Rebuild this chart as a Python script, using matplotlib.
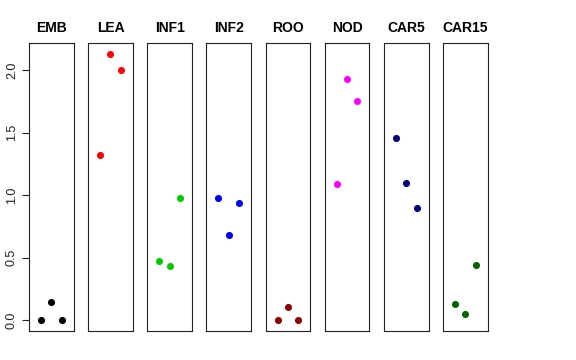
import matplotlib
matplotlib.use("Agg")
import matplotlib.pyplot as plt

plt.rcParams['font.family'] = ['Liberation Sans', 'DejaVu Sans']

groups = ["EMB", "LEA", "INF1", "INF2", "ROO", "NOD", "CAR5", "CAR15"]
colors = ["#000000", "#FF0000", "#00CD00", "#0000FF", "#8B0000", "#FF00FF", "#000080", "#006400"]
x_pos = [1, 2, 3]
values = {
    "EMB":   [0.00, 0.15, 0.00],
    "LEA":   [1.32, 2.13, 2.00],
    "INF1":  [0.47, 0.43, 0.98],
    "INF2":  [0.98, 0.68, 0.94],
    "ROO":   [0.00, 0.11, 0.00],
    "NOD":   [1.09, 1.93, 1.75],
    "CAR5":  [1.46, 1.10, 0.90],
    "CAR15": [0.13, 0.05, 0.44],
}
yticks = [0.0, 0.5, 1.0, 1.5, 2.0]
ytick_labels = ["0.0", "0.5", "1.0", "1.5", "2.0"]

W, H = 576, 360
fig = plt.figure(figsize=(W / 100, H / 100), dpi=100)

ymin, ymax = 0.0, 2.13
pad = (ymax - ymin) * 0.04
left0, pitch, width = 29.0, 59.14, 44.7
top_px, bot_px = 43.0, 331.0

for i, g in enumerate(groups):
    l = (left0 + i * pitch) / W
    ax = fig.add_axes([l, 1 - bot_px / H, width / W, (bot_px - top_px) / H])
    ax.scatter(x_pos, values[g], s=26, color=colors[i], linewidths=0, zorder=3)
    ax.set_xlim(-0.16, 4.16)
    ax.set_ylim(ymin - pad, ymax + pad)
    ax.set_xticks([])
    for sp in ax.spines.values():
        sp.set_linewidth(0.8)
        sp.set_color("#222222")
    ax.set_title(g, fontsize=10, fontweight="bold", pad=8)
    if i == 0:
        ax.set_yticks(yticks)
        ax.set_yticklabels(ytick_labels, rotation=90, va="center", fontsize=9)
        ax.tick_params(axis="y", length=5, width=0.8, pad=3, colors="#222222")
    else:
        ax.set_yticks([])

fig.savefig("out.png", dpi=100)
